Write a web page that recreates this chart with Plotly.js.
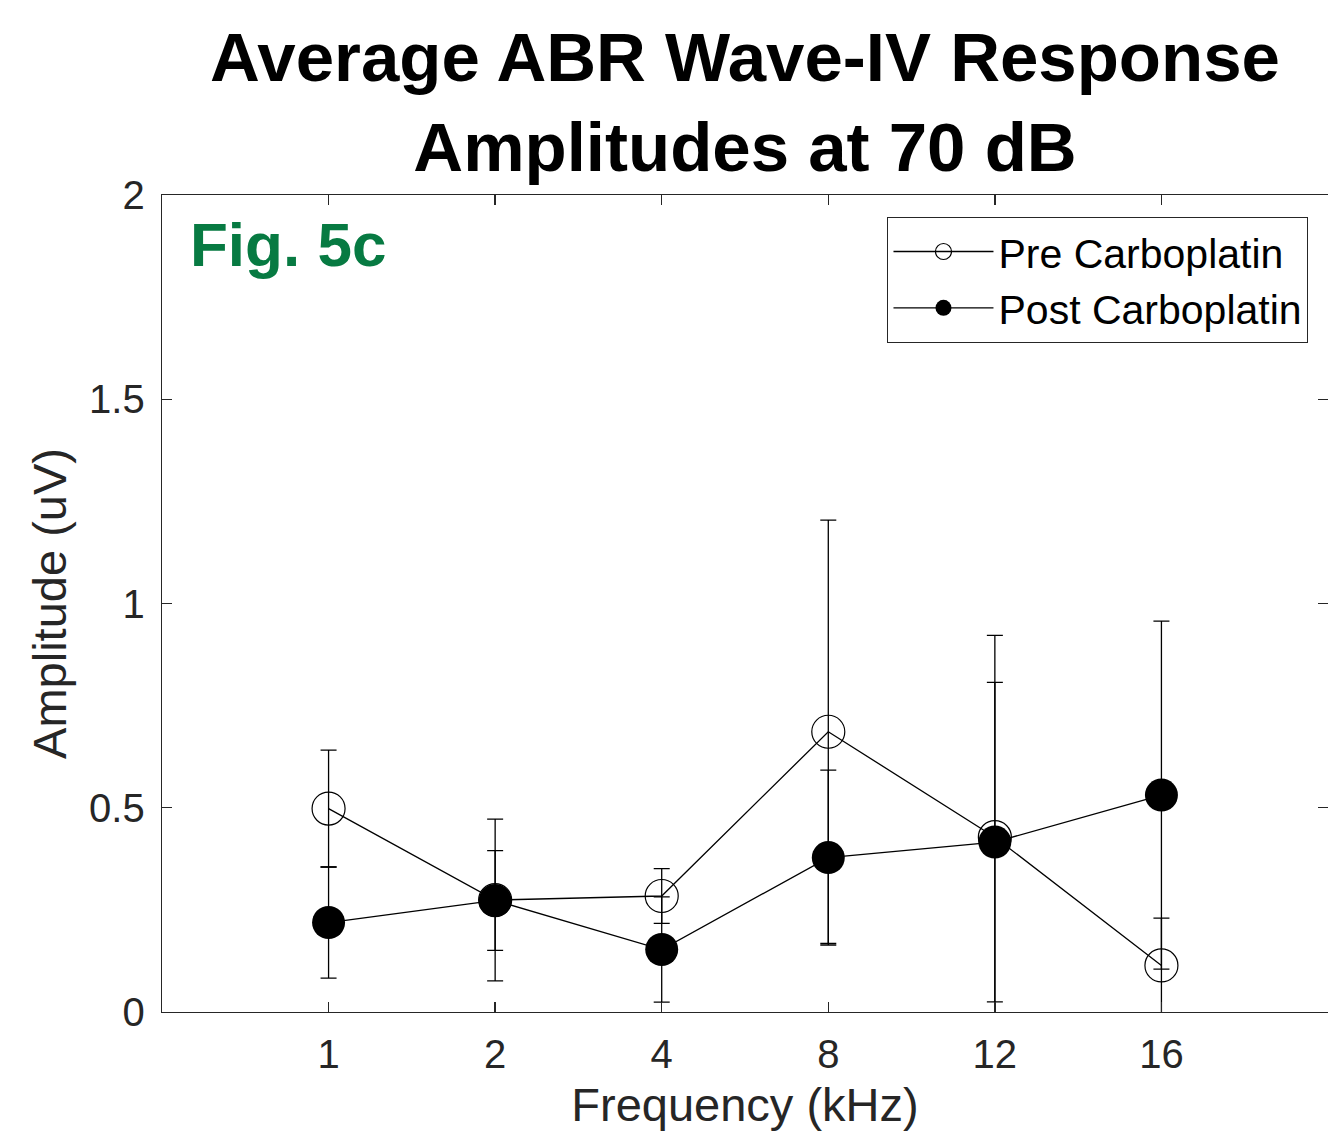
<!DOCTYPE html>
<html>
<head>
<meta charset="utf-8">
<script src="https://cdn.plot.ly/plotly-3.0.1.min.js"></script>
<style>html,body{margin:0;padding:0;background:#fff;}#chart{width:1328px;height:1139px;}</style>
</head>
<body>
<div id="chart"></div>
<script>
// Frequencies (kHz) shown as category tick labels
var freqLabels = ['1', '2', '4', '8', '12', '16'];

// Pre Carboplatin: mean amplitude (uV) and error (±)
var preMean = [0.498, 0.274, 0.284, 0.686, 0.428, 0.114];
var preErr  = [0.143, 0.198, 0.067, 0.518, 0.494, 0.116];

// Post Carboplatin: mean amplitude (uV) and error (±)
var postMean = [0.219, 0.273, 0.153, 0.378, 0.416, 0.531];
var postErr  = [0.136, 0.122, 0.129, 0.214, 0.391, 0.426];

var yTicks = [0, 0.5, 1, 1.5, 2];
var yTickText = ['0', '0.5', '1', '1.5', '2'];

var axisColor = '#262626';
var fontFam = '"Liberation Sans", Arial, Helvetica, sans-serif';

var errStyle = function (arr) {
  return {type: 'data', array: arr, symmetric: true, visible: true,
          color: '#000000', thickness: 1.3, width: 8};
};

var traces = [
  {
    type: 'scatter', mode: 'lines+markers', name: 'Pre Carboplatin',
    x: freqLabels, y: preMean, error_y: errStyle(preErr),
    line: {color: '#000000', width: 1.3},
    marker: {symbol: 'circle-open', size: 33, color: '#000000', line: {width: 1.2, color: '#000000'}}
  },
  {
    type: 'scatter', mode: 'lines+markers', name: 'Post Carboplatin',
    x: freqLabels, y: postMean, error_y: errStyle(postErr),
    line: {color: '#000000', width: 1.3},
    marker: {symbol: 'circle', size: 33, color: '#000000', line: {width: 0}}
  }
];

var layout = {
  width: 1328, height: 1139,
  margin: {l: 162, r: 0, t: 195, b: 127, pad: 0},
  paper_bgcolor: '#ffffff', plot_bgcolor: '#ffffff',
  font: {family: fontFam, color: axisColor},
  showlegend: true,
  title: {
    text: 'Average ABR Wave-IV Response<br>Amplitudes at 70 dB',
    font: {family: fontFam, size: 69, color: '#000000', weight: 'bold'},
    x: 0.5, xref: 'paper', xanchor: 'center',
    y: 0.929, yref: 'container', yanchor: 'top'
  },
  xaxis: {
    type: 'category', range: [-1, 6], fixedrange: true,
    showline: true, linecolor: axisColor, linewidth: 1.3, mirror: 'ticks',
    ticks: 'inside', ticklen: 10, tickwidth: 1.3, tickcolor: axisColor,
    tickfont: {size: 40, color: axisColor}, ticklabelstandoff: 7,
    showgrid: false, zeroline: false,
    title: {text: 'Frequency (kHz)', font: {size: 47, color: axisColor}, standoff: 12}
  },
  yaxis: {
    range: [0, 2], fixedrange: true,
    tickvals: yTicks, ticktext: yTickText,
    showline: true, linecolor: axisColor, linewidth: 1.3, mirror: 'ticks',
    ticks: 'inside', ticklen: 10, tickwidth: 1.3, tickcolor: axisColor,
    tickfont: {size: 40, color: axisColor}, ticklabelstandoff: 8,
    showgrid: false, zeroline: false,
    title: {text: 'Amplitude (uV)', font: {size: 47, color: axisColor}, standoff: 7}
  },
  legend: {
    x: 0.983, xanchor: 'right', y: 0.973, yanchor: 'top',
    bgcolor: '#ffffff', bordercolor: axisColor, borderwidth: 1.3,
    font: {size: 41, color: '#000000'},
    itemwidth: 100, tracegroupgap: 0
  },
  annotations: [
    {
      text: '<b>Fig. 5c</b>', xref: 'paper', yref: 'paper',
      x: 0.0223, xanchor: 'left', y: 0.9396, yanchor: 'middle',
      showarrow: false, font: {family: fontFam, size: 62, color: '#077a42'}
    }
  ]
};

Plotly.newPlot('chart', traces, layout, {displayModeBar: false, staticPlot: true});
</script>
</body>
</html>
